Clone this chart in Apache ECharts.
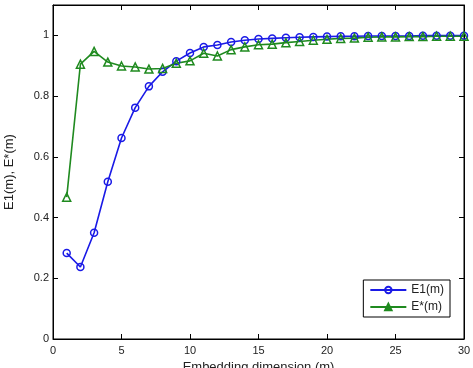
<!DOCTYPE html>
<html><head><meta charset="utf-8">
<script src="https://cdn.jsdelivr.net/npm/echarts@6/dist/echarts.min.js"></script>
<style>html,body{margin:0;padding:0;background:#fff}#c{width:473px;height:368px}</style>
</head><body><div id="c"></div>
<script>
const dims = [1,2,3,4,5,6,7,8,9,10,11,12,13,14,15,16,17,18,19,20,21,22,23,24,25,26,27,28,29,30];
const e1 = [0.283,0.237,0.350,0.518,0.662,0.762,0.832,0.880,0.915,0.942,0.962,0.968,0.978,0.984,0.988,0.990,0.992,0.994,0.995,0.996,0.997,0.997,0.998,0.998,0.998,0.998,0.999,0.999,0.999,0.999];
const eStar = [0.467,0.905,0.947,0.912,0.899,0.896,0.889,0.891,0.908,0.916,0.941,0.932,0.953,0.962,0.969,0.971,0.976,0.980,0.984,0.987,0.990,0.991,0.994,0.995,0.995,0.996,0.996,0.997,0.997,0.997];
const xTicks = [0,5,10,15,20,25,30];
const yTicks = [0,0.2,0.4,0.6,0.8,1];

const font = 'Liberation Sans, Arial, sans-serif';
const chart = echarts.init(document.getElementById('c'));
const axisLine = {show:true, onZero:false, lineStyle:{color:'#000', width:1}};
const tick = {show:true, inside:true, length:5, lineStyle:{color:'#000'}};
chart.setOption({
  animation:false,
  grid:{left:53, right:9, top:5, bottom:29, show:true, borderColor:'#000', borderWidth:1,
        containLabel:false, outerBoundsMode:'none'},
  xAxis:[{type:'value', min:0, max:30, interval:5, position:'bottom',
    axisLine, axisTick:tick, splitLine:{show:false},
    axisLabel:{color:'#222', fontFamily:font, fontSize:11, margin:6,
      formatter:v=> xTicks.includes(v)?String(v):''},
    name:'Embedding dimension (m)', nameLocation:'middle', nameGap:15,
    nameTextStyle:{color:'#222', fontFamily:font, fontSize:13}},
   {type:'value', min:0, max:30, interval:5, position:'top',
    axisLine, axisTick:tick, axisLabel:{show:false}, splitLine:{show:false}}],
  yAxis:[{type:'value', min:0, max:1.1, interval:0.2, position:'left',
    axisLine, axisTick:tick, splitLine:{show:false},
    axisLabel:{color:'#222', fontFamily:font, fontSize:11, margin:4,
      formatter:v=> { const t = yTicks.find(y=>Math.abs(y-v)<1e-6); return t===undefined?'':String(t); }},
    name:'E1(m), E*(m)', nameLocation:'middle', nameGap:37,
    nameTextStyle:{color:'#222', fontFamily:font, fontSize:13}},
   {type:'value', min:0, max:1.1, interval:0.2, position:'right',
    axisLine, axisTick:tick, axisLabel:{show:false}, splitLine:{show:false}}],
  legend:{right:23, bottom:51, orient:'vertical', itemWidth:36, itemHeight:8, itemGap:5,
    padding:[4,6,4,6], borderColor:'#000', borderWidth:1, backgroundColor:'#fff',
    textStyle:{fontFamily:font, fontSize:12, color:'#222'},
    data:[{name:'E1(m)'},{name:'E*(m)', itemStyle:{color:'#1f8a1f'}}]},
  series:[
    {name:'E1(m)', type:'line', data:dims.map((d,i)=>[d,e1[i]]),
     symbol:'circle', symbolSize:7, showAllSymbol:true,
     lineStyle:{color:'#1a1ae6', width:1.6},
     itemStyle:{color:'rgba(255,255,255,0)', borderColor:'#1a1ae6', borderWidth:1.5}},
    {name:'E*(m)', type:'line', data:dims.map((d,i)=>[d,eStar[i]]),
     symbol:'triangle', symbolSize:8, showAllSymbol:true,
     lineStyle:{color:'#1f8a1f', width:1.6},
     itemStyle:{color:'rgba(255,255,255,0)', borderColor:'#1f8a1f', borderWidth:1.5}}
  ]
});
</script></body></html>
